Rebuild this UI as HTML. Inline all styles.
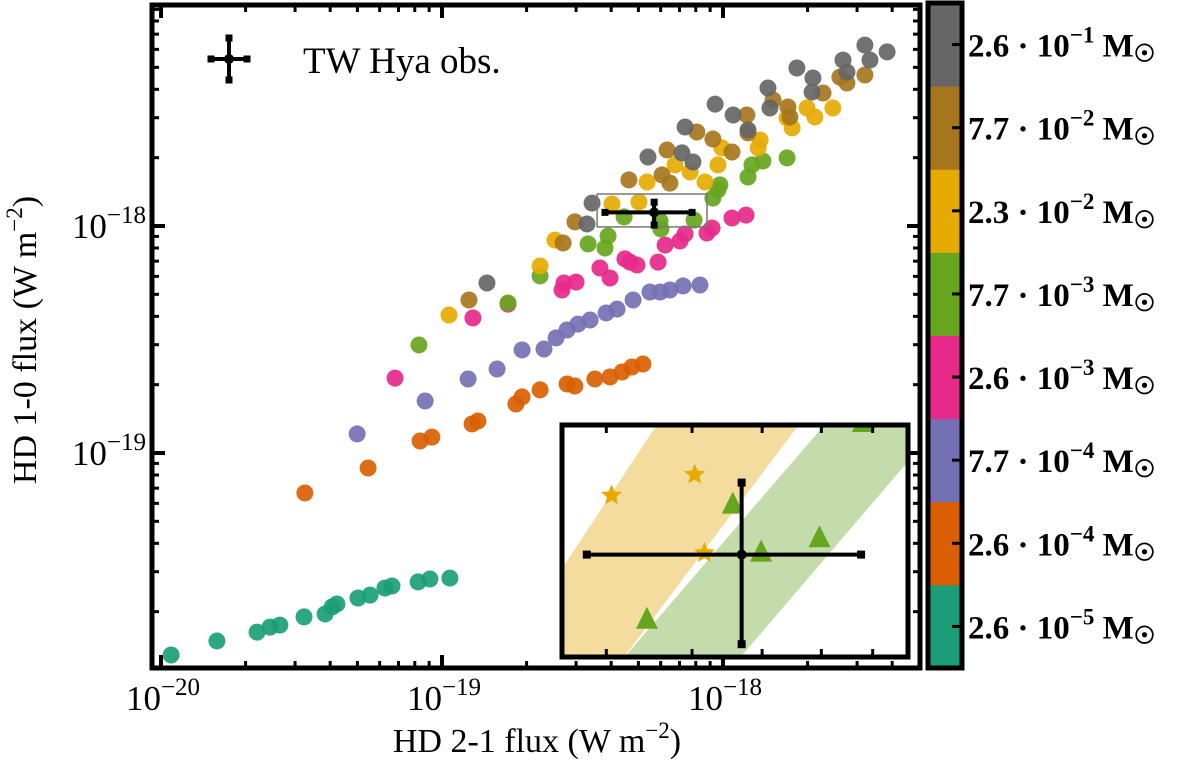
<!DOCTYPE html>
<html><head><meta charset="utf-8">
<style>
html,body{margin:0;padding:0;background:#fff;}
svg{display:block;}
text{font-family:"Liberation Serif","DejaVu Serif",serif;}
</style></head>
<body>
<svg id="chart" width="1200" height="760" viewBox="0 0 1200 760" xmlns="http://www.w3.org/2000/svg" font-family="Liberation Serif, DejaVu Serif, serif">
<defs>
<clipPath id="mainclip"><rect x="152" y="5" width="768" height="663"/></clipPath>
<clipPath id="insetclip"><rect x="562" y="425" width="346" height="232"/></clipPath>
</defs>
<g id="marks" clip-path="url(#mainclip)"></g>
<g id="axes"></g>
<g id="inset"></g>
<g id="cbar"></g>
</svg>
<script>
// log10 flux values: HD 2-1 (x) and HD 1-0 (y), grouped by disk mass
const massLabels = ["2.6 · 10⁻⁵","2.6 · 10⁻⁴","7.7 · 10⁻⁴","2.6 · 10⁻³","7.7 · 10⁻³","2.3 · 10⁻²","7.7 · 10⁻²","2.6 · 10⁻¹"];
const massExps = ["−5","−4","−4","−3","−3","−2","−2","−1"];
const massMant = ["2.6","2.6","7.7","2.6","7.7","2.3","7.7","2.6"];
const massColors = ["#1b9e77","#d95f02","#7570b3","#e7298a","#66a61e","#e6ab02","#a6761d","#666666"];
const xM0 = [-19.964,-19.801,-19.658,-19.612,-19.577,-19.491,-19.416,-19.391,-19.374,-19.299,-19.256,-19.203,-19.178,-19.085,-19.043,-18.972];
const yM0 = [-19.890,-19.828,-19.789,-19.767,-19.758,-19.722,-19.709,-19.678,-19.665,-19.639,-19.626,-19.595,-19.586,-19.568,-19.555,-19.551];
const xM1 = [-19.488,-19.263,-19.078,-19.036,-18.893,-18.872,-18.737,-18.715,-18.651,-18.555,-18.527,-18.456,-18.402,-18.359,-18.324,-18.285];
const yM1 = [-19.176,-19.066,-18.947,-18.930,-18.872,-18.859,-18.784,-18.753,-18.722,-18.696,-18.705,-18.674,-18.665,-18.643,-18.621,-18.608];
const xM2 = [-19.302,-19.060,-18.907,-18.804,-18.715,-18.637,-18.594,-18.555,-18.516,-18.473,-18.416,-18.377,-18.320,-18.260,-18.224,-18.189,-18.142,-18.082];
const yM2 = [-18.916,-18.771,-18.674,-18.630,-18.546,-18.542,-18.493,-18.458,-18.432,-18.414,-18.383,-18.366,-18.326,-18.291,-18.291,-18.282,-18.264,-18.260];
const xM3 = [-19.167,-18.890,-18.765,-18.573,-18.566,-18.523,-18.438,-18.402,-18.349,-18.331,-18.306,-18.231,-18.206,-18.153,-18.135,-18.057,-18.039,-17.968,-17.918];
const yM3 = [-18.670,-18.405,-18.344,-18.282,-18.251,-18.247,-18.185,-18.229,-18.145,-18.159,-18.172,-18.159,-18.084,-18.066,-18.035,-18.031,-18.009,-17.965,-17.952];
const xM4 = [-19.082,-18.765,-18.651,-18.480,-18.420,-18.409,-18.352,-18.224,-18.221,-18.103,-18.018,-18.036,-18.011,-17.911,-17.897,-17.858,-17.772];
const yM4 = [-18.524,-18.339,-18.220,-18.079,-18.097,-18.044,-17.960,-17.978,-18.013,-17.974,-17.841,-17.877,-17.819,-17.784,-17.731,-17.714,-17.700];
const xM5 = [-18.975,-18.651,-18.598,-18.395,-18.299,-18.270,-18.171,-18.117,-18.064,-18.018,-18.004,-17.875,-17.868,-17.754,-17.772,-17.701,-17.673,-17.609];
const yM5 = [-18.392,-18.176,-18.062,-17.903,-17.894,-17.806,-17.731,-17.762,-17.806,-17.731,-17.656,-17.656,-17.621,-17.568,-17.524,-17.480,-17.520,-17.480];
const xM6 = [-18.904,-18.569,-18.527,-18.335,-18.217,-18.189,-18.199,-18.093,-18.036,-17.968,-17.915,-17.911,-17.822,-17.769,-17.762,-17.644,-17.584,-17.559,-17.495];
const yM6 = [-18.326,-18.075,-17.982,-17.797,-17.775,-17.811,-17.665,-17.586,-17.617,-17.674,-17.511,-17.590,-17.445,-17.476,-17.520,-17.414,-17.344,-17.370,-17.335];
const xM7 = [-18.840,-18.466,-18.484,-18.267,-18.146,-18.135,-18.107,-18.028,-17.964,-17.911,-17.840,-17.833,-17.737,-17.680,-17.683,-17.573,-17.559,-17.495,-17.477,-17.416];
const yM7 = [-18.251,-17.899,-17.991,-17.696,-17.678,-17.564,-17.718,-17.463,-17.511,-17.577,-17.392,-17.480,-17.304,-17.348,-17.410,-17.269,-17.322,-17.203,-17.269,-17.233];
const seriesX = [xM0,xM1,xM2,xM3,xM4,xM5,xM6,xM7];
const seriesY = [yM0,yM1,yM2,yM3,yM4,yM5,yM6,yM7];
// observation (log10)
const obsX = -18.245, obsY = -17.94;
const obsXerr = [-18.42, -18.11];
const obsYerr = [-17.996, -17.895];
// inset markers (log10)
const starX = [-18.392,-18.298,-18.287];
const starY = [-17.903,-17.890,-17.939];
const triX = [-18.255,-18.223,-18.157,-18.352,-18.108];
const triY = [-17.910,-17.940,-17.931,-17.982,-17.859];
const bandYellowX = [-18.568,-18.270,-18.101,-18.441];
const bandYellowY = [-18.05,-17.80,-17.80,-18.05];
const bandGreenX = [-18.448,-18.059,-17.931,-18.318];
const bandGreenY = [-18.05,-17.80,-17.80,-18.05];
const xTickExps = [-20,-19,-18];
const yTickExps = [-19,-18];

const NS="http://www.w3.org/2000/svg";
const FF='"Liberation Serif","DejaVu Serif",serif';
function el(tag, attrs, parent){const e=document.createElementNS(NS,tag);for(const k in attrs)e.setAttribute(k,attrs[k]);if(tag==='text')e.setAttribute('font-family',FF);parent.appendChild(e);return e;}
const X0=152,X1=920,Y0=5,Y1=668;
function sx(l){return 161+(l+20)*281;}
function sy(l){return 453-(l+19)*227;}
const marks=document.getElementById('marks');
for(let s=0;s<seriesX.length;s++){
  for(let i=0;i<seriesX[s].length;i++){
    const c=el('circle',{cx:sx(seriesX[s][i]),cy:sy(seriesY[s][i]),r:8.5,fill:massColors[s],'fill-opacity':0.92},marks);
    
    
  }
}
const iyTop=sy(-17.859), iyBot=sy(-18.004), ixL=sx(-18.448), ixR=sx(-18.057);
const zb=el('rect',{x:ixL,y:iyTop,width:ixR-ixL,height:iyBot-iyTop,fill:'none',stroke:'#777','stroke-width':1.5},marks);


function errCross(parent,cx,cy,x1,x2,y1,y2,w,cap,name){
  const g=el('g',{},parent);
  
  
  el('line',{x1:x1,y1:cy,x2:x2,y2:cy,stroke:'#000','stroke-width':w},g);
  el('line',{x1:cx,y1:y1,x2:cx,y2:y2,stroke:'#000','stroke-width':w},g);
  el('rect',{x:x1-cap/2,y:cy-cap/2,width:cap,height:cap,fill:'#000'},g);
  el('rect',{x:x2-cap/2,y:cy-cap/2,width:cap,height:cap,fill:'#000'},g);
  el('rect',{x:cx-cap/2,y:y1-cap/2,width:cap,height:cap,fill:'#000'},g);
  el('rect',{x:cx-cap/2,y:y2-cap/2,width:cap,height:cap,fill:'#000'},g);
  el('circle',{cx:cx,cy:cy,r:5,fill:'#000'},g);
}
errCross(marks,sx(obsX),sy(obsY),sx(obsXerr[0]),sx(obsXerr[1]),sy(obsYerr[1]),sy(obsYerr[0]),4,7,'tw-hya-observation');

const axes=document.getElementById('axes');
const frame=el('rect',{x:X0,y:Y0,width:X1-X0,height:Y1-Y0,fill:'none',stroke:'#000','stroke-width':5},axes);


for(let d=-21;d<=-17;d++){for(let m=1;m<10;m++){const l=d+Math.log10(m);const x=sx(l);if(x<X0+3||x>X1-3)continue;const len=m==1?13:7;const w=m==1?4:3;
  el('line',{x1:x,y1:Y1,x2:x,y2:Y1-len,stroke:'#000','stroke-width':w},axes);
  el('line',{x1:x,y1:Y0,x2:x,y2:Y0+len,stroke:'#000','stroke-width':w},axes);}}
for(let d=-21;d<=-17;d++){for(let m=1;m<10;m++){const l=d+Math.log10(m);const y=sy(l);if(y<Y0+3||y>Y1-3)continue;const len=m==1?13:7;const w=m==1?4:3;
  el('line',{x1:X0,y1:y,x2:X0+len,y2:y,stroke:'#000','stroke-width':w},axes);
  el('line',{x1:X1,y1:y,x2:X1-len,y2:y,stroke:'#000','stroke-width':w},axes);}}
xTickExps.forEach(e=>{const t=el('text',{x:sx(e)+2,y:710,'text-anchor':'middle','font-size':35},axes);
  
  t.innerHTML='10<tspan dy="-15" font-size="25">−'+(-e)+'</tspan>';});
yTickExps.forEach(e=>{const t=el('text',{x:146,y:sy(e)+12,'text-anchor':'end','font-size':35},axes);
  
  t.innerHTML='10<tspan dy="-15" font-size="25">−'+(-e)+'</tspan>';});
const xl=el('text',{x:537,y:752,'text-anchor':'middle','font-size':34},axes);

xl.innerHTML='HD 2-1 flux (W m<tspan dy="-14" font-size="23">−2</tspan><tspan dy="14">)</tspan>';
const yl=el('text',{x:0,y:0,'text-anchor':'middle','font-size':34,transform:'translate(36,340) rotate(-90)'},axes);

yl.innerHTML='HD 1-0 flux (W m<tspan dy="-14" font-size="23">−2</tspan><tspan dy="14">)</tspan>';
const lg=el('g',{},axes);

errCross(lg,229,59,211,247,38,80,4,7,'legend-marker');
const lt=el('text',{x:303,y:73,'font-size':37},lg);

lt.textContent='TW Hya obs.';

const inset=document.getElementById('inset');
const IX0=562,IX1=908,IY0=425,IY1=657;
const ixs=l=>IX0+(l-(-18.448))/(0.391)*(IX1-IX0);
const iys=l=>IY0+((-17.859)-l)/(0.145)*(IY1-IY0);
el('rect',{x:IX0,y:IY0,width:IX1-IX0,height:IY1-IY0,fill:'#fff'},inset);
const ic=el('g',{'clip-path':'url(#insetclip)'},inset);
function band(xs,ys,fill,name){const p=el('polygon',{points:xs.map((x,i)=>ixs(x)+','+iys(ys[i])).join(' '),fill:fill,stroke:fill,'stroke-width':1},ic);
  }
band(bandYellowX,bandYellowY,'#f3dc9e','inset-band-yellow');
band(bandGreenX,bandGreenY,'#c4dcac','inset-band-green');
starX.forEach((x,i)=>{const cx=ixs(x),cy=iys(starY[i]);let pts=[];for(let k=0;k<10;k++){const r=k%2?5:11;const a=-Math.PI/2+k*Math.PI/5;pts.push((cx+r*Math.cos(a))+','+(cy+r*Math.sin(a)));}
  const s=el('polygon',{points:pts.join(' '),fill:'#e6ab02'},ic);});
triX.forEach((x,i)=>{const cx=ixs(x),cy=iys(triY[i]);
  const t=el('polygon',{points:`${cx},${cy-15} ${cx-11},${cy+7} ${cx+11},${cy+7}`,fill:'#66a61e'},ic);});
errCross(ic,ixs(obsX),iys(obsY),ixs(obsXerr[0]),ixs(obsXerr[1]),iys(obsYerr[1]),iys(obsYerr[0]),4,8,'inset-observation');
for(let m=4;m<=9;m++){const x=ixs(-19+Math.log10(m));if(x>IX0+3&&x<IX1-3){el('line',{x1:x,y1:IY0,x2:x,y2:IY0+8,stroke:'#000','stroke-width':3},inset);el('line',{x1:x,y1:IY1,x2:x,y2:IY1-8,stroke:'#000','stroke-width':3},inset);}}
el('line',{x1:ixs(-18),y1:IY0,x2:ixs(-18),y2:IY0+12,stroke:'#000','stroke-width':4},inset);
const iframe=el('rect',{x:IX0,y:IY0,width:IX1-IX0,height:IY1-IY0,fill:'none',stroke:'#000','stroke-width':5},inset);


const cb=document.getElementById('cbar');
const CB0=3,CB1=668,bh=(CB1-CB0)/8;
for(let i=0;i<8;i++){const y=CB1-(i+1)*bh;
  const r=el('rect',{x:928,y:y,width:34,height:bh+0.5,fill:massColors[i]},cb);
  
  el('line',{x1:952,y1:y+bh/2,x2:962,y2:y+bh/2,stroke:'#000','stroke-width':3},cb);
  const t=el('text',{x:968,y:y+bh/2+12,'font-size':33,'font-weight':'bold'},cb);
  
  t.innerHTML=massMant[i]+' · 10<tspan dy="-14" font-size="23">'+massExps[i]+'</tspan><tspan dy="14"> M</tspan><tspan dy="5" font-size="24">☉</tspan>';}
el('rect',{x:928,y:CB0,width:34,height:CB1-CB0,fill:'none',stroke:'#000','stroke-width':5},cb);
</script>
</body></html>
